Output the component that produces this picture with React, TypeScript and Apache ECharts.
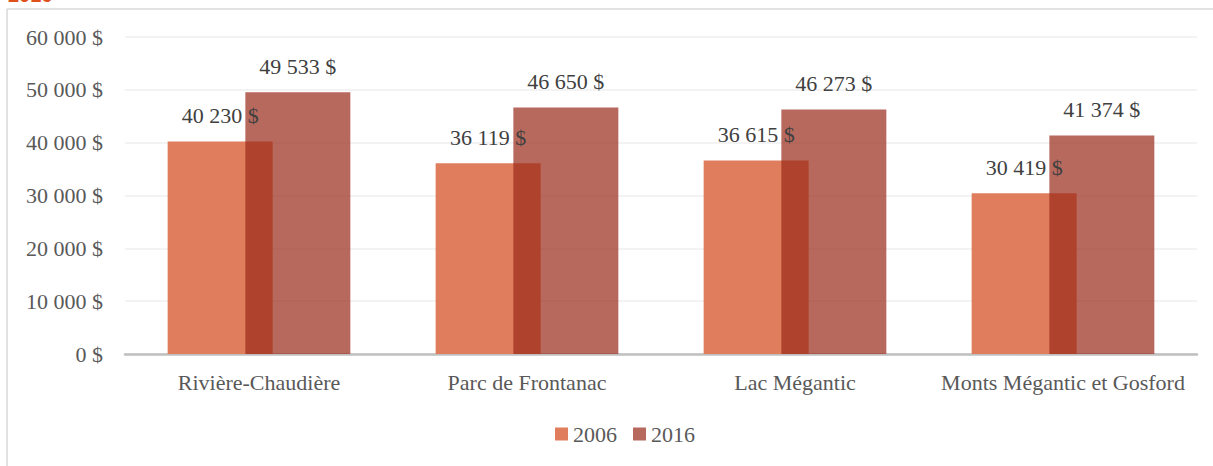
import React, { useEffect, useRef } from "react";
import * as echarts from "echarts";

const categories = ["Rivière-Chaudière", "Parc de Frontanac", "Lac Mégantic", "Monts Mégantic et Gosford"];
const values2006 = [40230, 36119, 36615, 30419];
const values2016 = [49533, 46650, 46273, 41374];
const seriesNames = ["2006", "2016"];

const fmt = (v: number) => String(Math.round(v)).replace(/\B(?=(\d{3})+(?!\d))/g, " ") + " $";

const FONT = "Liberation Serif";

export default function App() {
  const ref = useRef<HTMLDivElement>(null);
  useEffect(() => {
    if (!ref.current) return;
    const chart = echarts.init(ref.current, null, { renderer: "svg" });
    const labelCfg = {
      show: true,
      position: "top" as const,
      distance: 15,
      fontFamily: FONT,
      fontSize: 22,
      color: "#404040",
      formatter: (p: any) => fmt(p.value),
    };
    chart.setOption({
      animation: false,
      backgroundColor: "#ffffff",
      textStyle: { fontFamily: FONT },
      graphic: [
        {
          type: "line",
          shape: { x1: 7, y1: 9, x2: 1213, y2: 9 },
          style: { stroke: "#D9D9D9", lineWidth: 1.5 },
          silent: true,
        },
        {
          type: "line",
          shape: { x1: 7, y1: 9, x2: 7, y2: 466 },
          style: { stroke: "#D9D9D9", lineWidth: 1.5 },
          silent: true,
        },
        {
          type: "text",
          x: 8,
          y: 5,
          style: {
            text: "2016",
            fill: "#E0501A",
            fontFamily: "Liberation Sans",
            fontWeight: "bold",
            fontSize: 20,
            verticalAlign: "bottom",
          },
          silent: true,
        },
      ],
      grid: { left: 125, right: 16, top: 37, bottom: 112, containLabel: false },
      legend: {
        data: seriesNames,
        left: 550,
        top: 418,
        icon: "rect",
        itemWidth: 13,
        itemHeight: 13,
        itemGap: 16,
        textStyle: { fontFamily: FONT, fontSize: 22, color: "#595959" },
      },
      xAxis: {
        type: "category",
        data: categories,
        axisLine: { lineStyle: { color: "#BFBFBF", width: 2.5 } },
        axisTick: { show: false },
        axisLabel: { fontFamily: FONT, fontSize: 22, color: "#595959", margin: 17, interval: 0 },
      },
      yAxis: {
        type: "value",
        min: 0,
        max: 60000,
        interval: 10000,
        axisLine: { show: false },
        axisTick: { show: false },
        axisLabel: {
          fontFamily: FONT,
          fontSize: 22,
          color: "#595959",
          margin: 22,
          formatter: (v: number) => fmt(v),
        },
        splitLine: { lineStyle: { color: "#EFEFEF", width: 1.5 } },
      },
      series: [
        {
          name: seriesNames[0],
          type: "bar",
          data: values2006,
          barWidth: 105,
          barGap: "-26%",
          itemStyle: { color: "#E07D5C" },
          label: labelCfg,
        },
        {
          name: seriesNames[1],
          type: "bar",
          data: values2016,
          barWidth: 105,
          itemStyle: { color: "rgba(154,42,26,0.7)" },
          label: labelCfg,
        },
      ],
    });
    return () => chart.dispose();
  }, []);
  return (
    <div
      ref={ref}
      style={{ position: "absolute", left: 0, top: 0, width: 1213, height: 466 }}
    />
  );
}
